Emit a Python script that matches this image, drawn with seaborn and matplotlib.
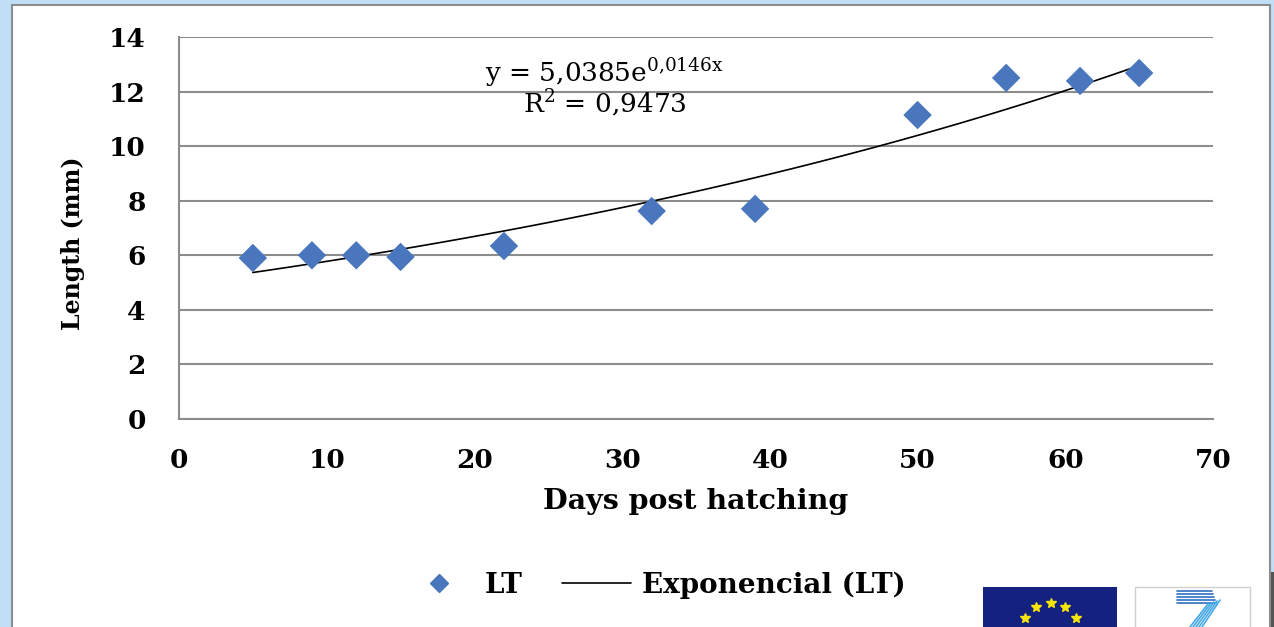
#length of larvae against days post hatching, with exponential trendline
import numpy as np
import pandas as pd
import seaborn as sns
from matplotlib import pyplot as plt
from matplotlib.patches import Rectangle
from matplotlib.lines import Line2D

#data
days = [5, 9, 12, 15, 22, 32, 39, 50, 56, 61, 65]
length_mm = [5.9, 6.0, 6.0, 5.94, 6.34, 7.62, 7.7, 11.14, 12.5, 12.39, 12.68]
x_ticks = [0, 10, 20, 30, 40, 50, 60, 70]
y_ticks = [0, 2, 4, 6, 8, 10, 12, 14]
eq_text = "y = 5,0385e$^{\\mathrm{0{,}0146x}}$"
r2_text = "R$^{\\mathrm{2}}$ = 0,9473"

stu = pd.DataFrame({'days': days, 'length': length_mm})

#exponential trendline, fitted like the spreadsheet does (log-linear)
b, ln_a = np.polyfit(stu['days'], np.log(stu['length']), 1)
trend = pd.DataFrame({'days': np.linspace(min(days), max(days), 100)})
trend['length'] = np.exp(ln_a) * np.exp(b * trend['days'])

sns.set_style('white')
plt.rcParams['font.family'] = ['DejaVu Serif']
plt.rcParams['mathtext.fontset'] = 'dejavuserif'
plt.rcParams['text.color'] = 'black'
plt.rcParams['xtick.color'] = 'black'
plt.rcParams['ytick.color'] = 'black'
plt.rcParams['axes.labelcolor'] = 'black'

fig = plt.figure(figsize=(12.74, 6.27), dpi=100)
fig.patch.set_facecolor('#c0dff7')
#white panel with grey frame
fig.patches.append(Rectangle((12/1274, -0.02), 1258/1274, 1.02 - 5/627, transform=fig.transFigure,
                             facecolor='white', edgecolor='#8c8c8c', linewidth=1.5, zorder=-5))

ax = fig.add_axes([179/1274, 1 - 419/627, 1034/1274, 382/627])
ax.set_facecolor('none')

sns.lineplot(data=trend, x='days', y='length', color='black', linewidth=1.2, ax=ax,
             label='Exponencial (LT)', legend=False, zorder=3)
sns.scatterplot(data=stu, x='days', y='length', marker='D', s=210, color='#4a76bd',
                edgecolor='none', ax=ax, label='LT', legend=False, zorder=4)

ax.set_xlim(0, 70)
ax.set_ylim(0, 14)
ax.set_xticks(x_ticks)
ax.set_yticks(y_ticks)
ax.yaxis.grid(True, color='#8c8c8c', linewidth=1.5)
ax.set_axisbelow(True)
for side in ['top', 'right']:
    ax.spines[side].set_visible(False)
for side in ['left', 'bottom']:
    ax.spines[side].set_color('#8c8c8c')
    ax.spines[side].set_linewidth(1.5)
ax.tick_params(axis='both', length=0, labelsize=19)
ax.tick_params(axis='y', pad=24)
ax.tick_params(axis='x', pad=21)
for lab in ax.get_xticklabels() + ax.get_yticklabels():
    lab.set_fontweight('bold')

ax.set_xlabel('Days post hatching', fontsize=20.5, fontweight='bold', labelpad=11)
ax.set_ylabel('Length (mm)', fontsize=17, fontweight='bold')
ax.yaxis.set_label_coords(-(179 - 85) / 1034, (419 - 243) / 382)

ax.text(28.8, 12.68, eq_text, ha='center', va='center', fontsize=19)
ax.text(28.8, 11.58, r2_text, ha='center', va='center', fontsize=19)

handles = [Line2D([], [], marker='D', linestyle='none', markersize=9.5, color='#4a76bd'),
           Line2D([], [], color='black', linewidth=1.2)]
fig.legend(handles, ['LT', 'Exponencial (LT)'], loc='center', bbox_to_anchor=(655/1274, 1 - 585/627),
           ncol=2, frameon=False, handlelength=2.5, handletextpad=0.4, columnspacing=1.4,
           prop={'weight': 'bold', 'size': 20})

#logos bottom right (EU flag and FP7)
fig.patches.append(Rectangle((983/1274, 0), 134/1274, 40/627, transform=fig.transFigure,
                             facecolor='#14217f', edgecolor='none', zorder=2))
star_x = [1025, 1036, 1051, 1065, 1076]
star_y = [618, 607, 603, 607, 618]
fig.add_artist(Line2D([v/1274 for v in star_x], [1 - v/627 for v in star_y], transform=fig.transFigure,
                      marker='*', linestyle='none', markersize=7, color='#f5e50a', zorder=3))
fig.patches.append(Rectangle((1135/1274, -0.02), 115/1274, 40/627 + 0.02, transform=fig.transFigure,
                             facecolor='white', edgecolor='#d0d0d0', linewidth=1, zorder=2))
for i, yy in enumerate([591, 594, 597, 600, 603]):
    fig.add_artist(Line2D([1177/1274, (1212 + i)/1274], [1 - yy/627, 1 - yy/627],
                          transform=fig.transFigure, color='#2f6fc0', linewidth=1.2, zorder=3))
for i in range(5):
    fig.add_artist(Line2D([(1208 + 3*i)/1274, (1190 + 3*i)/1274], [1 - (604 - i)/627, 1 - 627/627],
                          transform=fig.transFigure, color='#45a8e6', linewidth=1.2, zorder=3))
fig.patches.append(Rectangle((1271/1274, 0), 3/1274, 55/627, transform=fig.transFigure,
                             facecolor='#555555', edgecolor='none', zorder=3))

plt.savefig('out.png', dpi=100, facecolor=fig.get_facecolor())
